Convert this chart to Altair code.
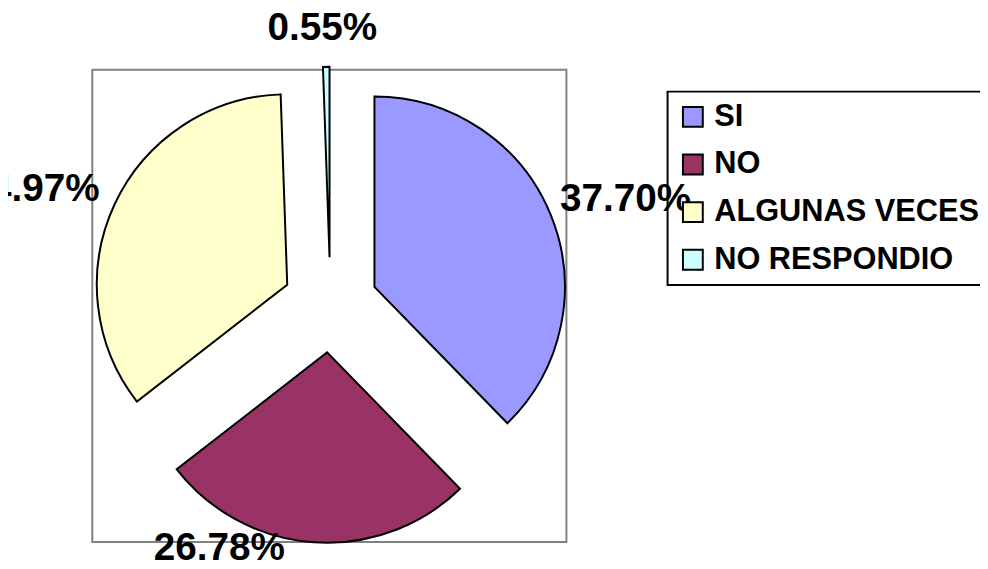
import altair as alt
import pandas as pd

categories = ["SI", "NO", "ALGUNAS VECES", "NO RESPONDIO"]
values = [37.70, 26.78, 34.97, 0.55]
labels = ["37.70%", "26.78%", "34.97%", "0.55%"]
colors = ["#9999FF", "#993366", "#FFFFCC", "#CCFFFF"]

# style / layout constants
CX, CY = 325.0, 297.0   # pie centre (px)
R = 192                 # pie radius
EXPLODE = 48            # explode distance
LABEL_R = 290           # label distance
nudges = {"SI": (29, 3), "NO": (-92, -44), "ALGUNAS VECES": (-36, 6), "NO RESPONDIO": (-3, 11)}

df = pd.DataFrame({"cat": categories, "value": values, "label": labels, "idx": list(range(len(categories)))})

base = alt.Chart(df).transform_window(
    cum="sum(value)", sort=[alt.SortField("idx", order="ascending")], frame=[None, 0]
).transform_joinaggregate(
    total="sum(value)"
).transform_calculate(
    t0="(datum.cum - datum.value) / datum.total * 2 * PI",
    t1="datum.cum / datum.total * 2 * PI",
).transform_calculate(
    mid="(datum.t0 + datum.t1) / 2"
).transform_calculate(
    cx=f"{CX} + {EXPLODE} * sin(datum.mid)",
    cy=f"{CY} - {EXPLODE} * cos(datum.mid)",
    lx=f"{CX} + {LABEL_R} * sin(datum.mid)",
    ly=f"{CY} - {LABEL_R} * cos(datum.mid)",
)

frame = alt.Chart(alt.Data(values=[{"a": 1}])).mark_rect(
    fillOpacity=0, stroke="#808080", strokeWidth=2
).encode(
    x=alt.value(85), x2=alt.value(563), y=alt.value(60), y2=alt.value(536)
)

arcs = base.mark_arc(radius=R, stroke="black", strokeWidth=2).encode(
    x=alt.X("cx:Q", scale=None, axis=None),
    y=alt.Y("cy:Q", scale=None, axis=None),
    theta=alt.Theta("t0:Q", scale=None, stack=False),
    theta2="t1:Q",
    color=alt.Color(
        "cat:N",
        scale=alt.Scale(domain=categories, range=colors),
        sort=categories,
        legend=alt.Legend(
            title=None,
            orient="none",
            legendX=665,
            legendY=82,
            strokeColor="black",
            padding=10,
            symbolType="square",
            symbolSize=400,
            symbolStrokeColor="black",
            symbolStrokeWidth=2,
            symbolOpacity=1,
            labelFont="Liberation Sans",
            labelFontWeight="bold",
            labelFontSize=31,
            labelColor="black",
            labelLimit=600,
            labelOffset=6,
            rowPadding=16,
        ),
    ),
)

texts = []
for cat in categories:
    dx, dy = nudges[cat]
    t = base.transform_filter(alt.datum.cat == cat).mark_text(
        font="Liberation Sans", fontWeight="bold", fontSize=39, color="black",
        align="center", baseline="middle", dx=dx, dy=dy
    ).encode(
        x=alt.X("lx:Q", scale=None, axis=None),
        y=alt.Y("ly:Q", scale=None, axis=None),
        text="label:N",
    )
    texts.append(t)

chart = alt.layer(frame, arcs, *texts).properties(
    width=980, height=561, padding=0,
    autosize=alt.AutoSizeParams(type="none"),
).configure_view(stroke=None).configure_legend(strokeWidth=2)

chart.save("out.html", embed_options={"renderer": "svg", "actions": False})
